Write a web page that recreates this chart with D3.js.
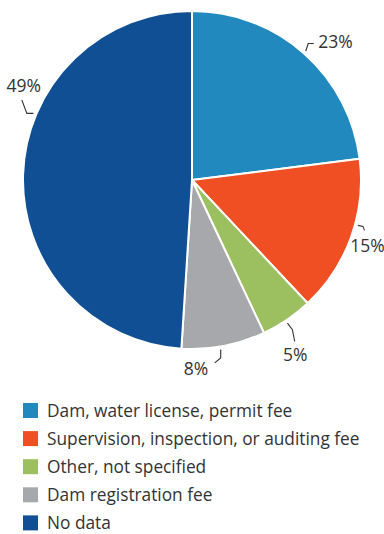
<!DOCTYPE html>
<html>
<head>
<meta charset="utf-8">
<script src="https://cdn.jsdelivr.net/npm/d3@7"></script>
<style>
  html, body { margin: 0; padding: 0; background: #fff; }
  svg { display: block; }
  text { font-family: "Open Sans", sans-serif; fill: #333; }
</style>
</head>
<body>
<svg id="chart" width="384" height="534"></svg>
<script>
// Revenue sources for dam safety programs (share of programs)
const categories = [
  "Dam, water license, permit fee",
  "Supervision, inspection, or auditing fee",
  "Other, not specified",
  "Dam registration fee",
  "No data"
];
const shares = [23, 15, 5, 8, 49];
const valueLabels = ["23%", "15%", "5%", "8%", "49%"];
const colors = ["#2289bf", "#f04f23", "#9cbf60", "#a6a8ab", "#104f93"];

// Callout layout: angle (deg, clockwise from 12 o'clock; null = slice middle),
// leader bends and text placement relative to the leader's end.
const callouts = [
  { angle: null,  seg1: [2.5, -7.5], seg2: [5.5, 0],    text: [4.5, 5],   anchor: "start"  },
  { angle: 105.3, seg1: [5, 1],      seg2: [1.6, 4],    text: [3, 22],    anchor: "middle" },
  { angle: 146.3, seg1: [5, 6.7],    seg2: [2.3, 11.7], text: [0.5, 20],  anchor: "middle" },
  { angle: 170.4, seg1: [0, 8.3],    seg2: [-6, 5],     text: [-6.5, 12], anchor: "end"    },
  { angle: 292.8, seg1: [-6.6, 0],   seg2: [-5, -13.3], text: [2, -8.3],  anchor: "middle" }
];

const svg = d3.select("#chart");
const cx = 192, cy = 180, radius = 169;

const pie = d3.pie().sort(null).value(d => d)(shares);
const arc = d3.arc().innerRadius(0).outerRadius(radius);

const g = svg.append("g").attr("transform", `translate(${cx},${cy})`);

g.selectAll("path.slice")
  .data(pie)
  .join("path")
  .attr("class", "slice")
  .attr("d", arc)
  .attr("fill", (d, i) => colors[i])
  .attr("stroke", "#fff")
  .attr("stroke-width", 2)
  .attr("stroke-linejoin", "round");

// Leaders and percentage labels
const labelG = g.append("g");
pie.forEach((d, i) => {
  const c = callouts[i];
  const deg = c.angle == null ? ((d.startAngle + d.endAngle) / 2) * 180 / Math.PI : c.angle;
  const a = deg * Math.PI / 180;
  const r0 = radius + 3;
  const p0 = [r0 * Math.sin(a), -r0 * Math.cos(a)];
  const p1 = [p0[0] + c.seg1[0], p0[1] + c.seg1[1]];
  const p2 = [p1[0] + c.seg2[0], p1[1] + c.seg2[1]];
  labelG.append("path")
    .attr("d", d3.line()([p0, p1, p2]))
    .attr("fill", "none")
    .attr("stroke", "#333")
    .attr("stroke-width", 1.1);
  labelG.append("text")
    .attr("x", p2[0] + c.text[0])
    .attr("y", p2[1] + c.text[1])
    .attr("text-anchor", c.anchor)
    .attr("font-size", 17.5)
    .text(valueLabels[i]);
});

// Legend
const legend = svg.append("g").attr("transform", "translate(23,403)");
const rowStep = 28.1;
const rows = legend.selectAll("g.row")
  .data(categories)
  .join("g")
  .attr("class", "row")
  .attr("transform", (d, i) => `translate(0,${i * rowStep})`);
rows.append("rect")
  .attr("width", 15)
  .attr("height", 15)
  .attr("fill", (d, i) => colors[i]);
rows.append("text")
  .attr("x", 24)
  .attr("y", 13.5)
  .attr("font-size", 17.3)
  .text(d => d);
</script>
</body>
</html>
